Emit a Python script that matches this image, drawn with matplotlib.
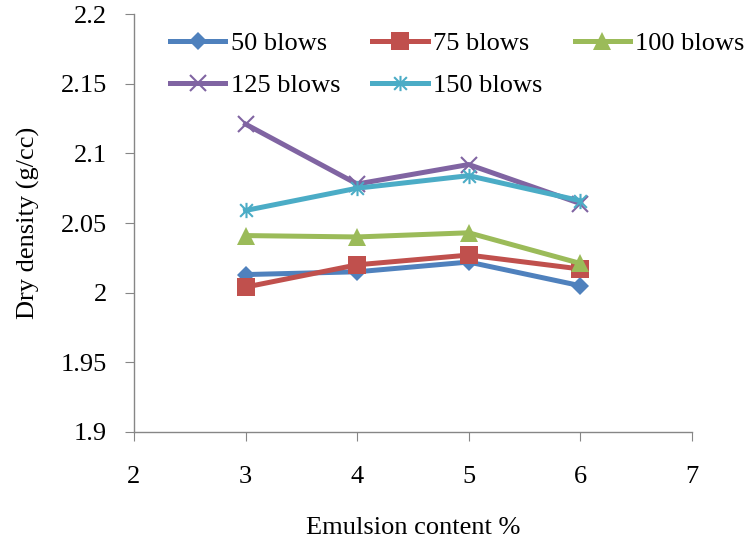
import matplotlib
matplotlib.use("Agg")
import matplotlib.pyplot as plt
from matplotlib.path import Path

emulsion = [3, 4, 5, 6]
blows_50 = [2.013, 2.015, 2.022, 2.005]
blows_75 = [2.004, 2.020, 2.027, 2.017]
blows_100 = [2.041, 2.040, 2.043, 2.021]
blows_125 = [2.121, 2.078, 2.092, 2.064]
blows_150 = [2.059, 2.075, 2.084, 2.066]
labels = ["50 blows", "75 blows", "100 blows", "125 blows", "150 blows"]

# excel-style star: an x with a vertical bar through it
star = Path([(-1, -1), (1, 1), (-1, 1), (1, -1), (0, -1.2), (0, 1.2)],
            [Path.MOVETO, Path.LINETO, Path.MOVETO, Path.LINETO, Path.MOVETO, Path.LINETO])

plt.rcParams["font.family"] = ["Liberation Serif", "DejaVu Serif"]
FS = 19

fig = plt.figure(figsize=(7.44, 5.41), dpi=100)
ax = fig.add_axes([0.180, 0.2015, 0.750, 0.7725])

styles = [
    (blows_50, "#4F81BD", "D", 9, 0),
    (blows_75, "#C0504D", "s", 12.5, 0),
    (blows_100, "#9BBB59", "^", 13, 0),
    (blows_125, "#8064A2", "x", 11, 1.5),
    (blows_150, "#4BACC6", star, 11, 1.5),
]
handles = []
for (vals, color, marker, ms, mew), lab in zip(styles, labels):
    h, = ax.plot(emulsion, vals, color=color, lw=3.6, marker=marker, ms=ms,
                 markeredgewidth=mew, label=lab)
    handles.append(h)

ax.set_xlim(2, 7)
ax.set_ylim(1.9, 2.2)
ax.set_xticks([2, 3, 4, 5, 6, 7])
ax.set_yticks([1.9, 1.95, 2.0, 2.05, 2.1, 2.15, 2.2])
ax.set_yticklabels(["1.9", "1.95", "2", "2.05", "2.1", "2.15", "2.2"])
for s in ["top", "right"]:
    ax.spines[s].set_visible(False)
for s in ["left", "bottom"]:
    ax.spines[s].set_color("#868686")
    ax.spines[s].set_linewidth(1.0)
ax.tick_params(colors="#868686", labelcolor="black", labelsize=FS, length=6.3,
               direction="out")
ax.tick_params(axis="x", pad=18)
ax.tick_params(axis="y", pad=13)
ax.set_xlabel("Emulsion content %", fontsize=FS, labelpad=21)
ax.set_ylabel("Dry density (g/cc)", fontsize=FS, labelpad=15)

# matplotlib fills legend columns first; reorder so rows read like the original
order = [0, 3, 1, 4, 2]
ax.legend([handles[i] for i in order], [labels[i] for i in order], ncol=3,
          loc="upper left", bbox_to_anchor=(0.0645, 0.958), frameon=False,
          fontsize=FS, handlelength=2.1, handletextpad=0.2, columnspacing=1.22,
          labelspacing=0.7, borderaxespad=0, borderpad=0)

fig.savefig("out.png", dpi=100)
